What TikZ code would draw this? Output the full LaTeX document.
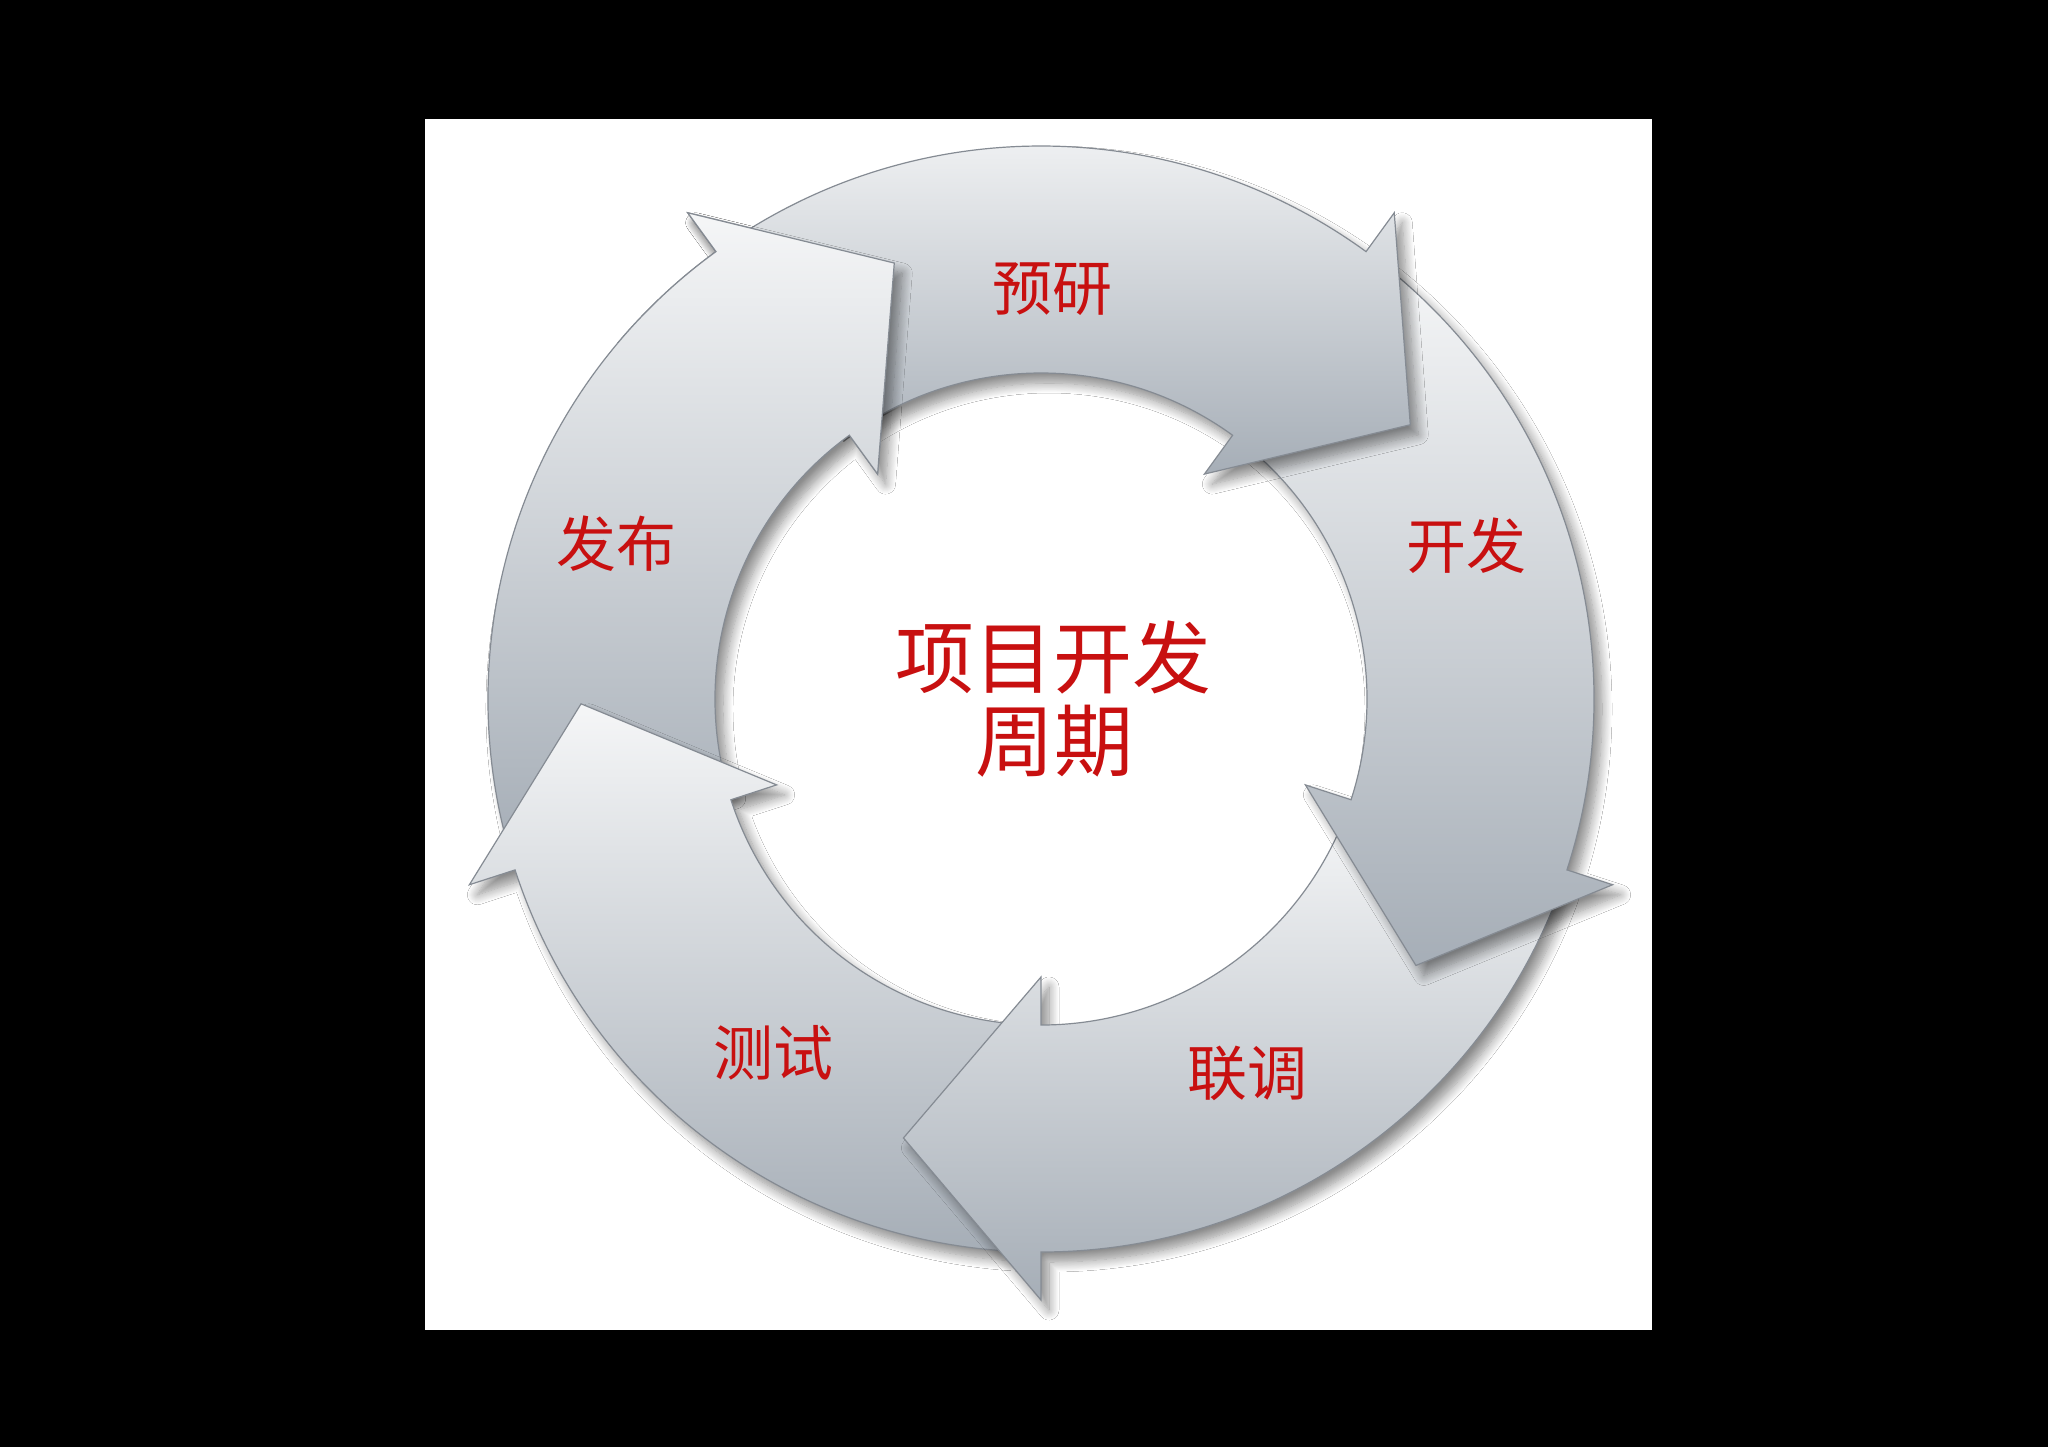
\documentclass[tikz,border=0pt]{standalone}
\usepackage{fontspec}
\newfontfamily\cjk{Noto Sans CJK SC}
\usetikzlibrary{shadows.blur}
\definecolor{lbl}{RGB}{200,16,16}
\definecolor{arrtop}{HTML}{F5F6F7}
\definecolor{arrbot}{HTML}{A6AEB7}
\definecolor{arredge}{HTML}{858B93}
\tikzset{
  arrowfill/.style={draw=arredge, line width=0.6pt, line join=miter,
    top color=arrtop, bottom color=arrbot},
  arrowshadow/.style={blur shadow={shadow xshift=4pt, shadow yshift=-5pt,
    shadow blur radius=5pt, shadow blur steps=12, shadow opacity=45}},
  cyclearrow/.style={arrowshadow, arrowfill},
  arrowpath/.style={insert path={
    (#1+70:326) -- (#1+70:553) arc[start angle=#1+70, end angle=#1, radius=553]
    -- (#1:601) -- (#1-17.4:460) -- (#1:278) -- (#1:326)
    arc[start angle=#1, end angle=#1+70, radius=326] -- cycle}},
  lab/.style={text=lbl, font=\cjk\fontsize{30pt}{36pt}\selectfont, inner sep=0pt},
  biglab/.style={text=lbl, font=\cjk\fontsize{39.5pt}{42pt}\selectfont, inner sep=0pt},
}
\begin{document}
\begin{tikzpicture}[x=0.5pt, y=0.5pt]
\fill[black] (-1041,699) rectangle (1007,-748);
\useasboundingbox (-1041,699) rectangle (1007,-748);
\fill[white] (-616,580) rectangle (611,-631);
% arrows: each head lies over the tail of the next arrow
\path[cyclearrow, arrowpath=126];   % 发布
\path[cyclearrow, arrowpath=-162];  % 测试
\path[cyclearrow, arrowpath=-90];   % 联调
\path[cyclearrow, arrowpath=-18];   % 开发
\path[cyclearrow, arrowpath=54];    % 预研
% 发布's head again, over the tail of 预研: first its shadow, then its body
\begin{scope}
  \clip (100:324) -- (100:800) arc[start angle=100, end angle=127.5, radius=800]
    -- (127.5:324) arc[start angle=127.5, end angle=100, radius=324] -- cycle;
  \path[arrowshadow, arrowpath=126];
\end{scope}
\begin{scope}
  \clip (0,0) -- (100:800) arc[start angle=100, end angle=140, radius=800] -- cycle;
  \path[arrowfill, arrowpath=126];
\end{scope}
% labels
\node[lab] (yy) at (11,410) {预研};
\node[lab] (kf) at (425,153) {开发};
\node[lab] (lt) at (206,-374) {联调};
\node[lab] (cs) at (-267,-354) {测试};
\node[lab] (fb) at (-424,155) {发布};
\node[biglab] (c1) at (12,42) {项目开发};
\node[biglab] (c2) at (13,-42) {周期};
\end{tikzpicture}
\end{document}
